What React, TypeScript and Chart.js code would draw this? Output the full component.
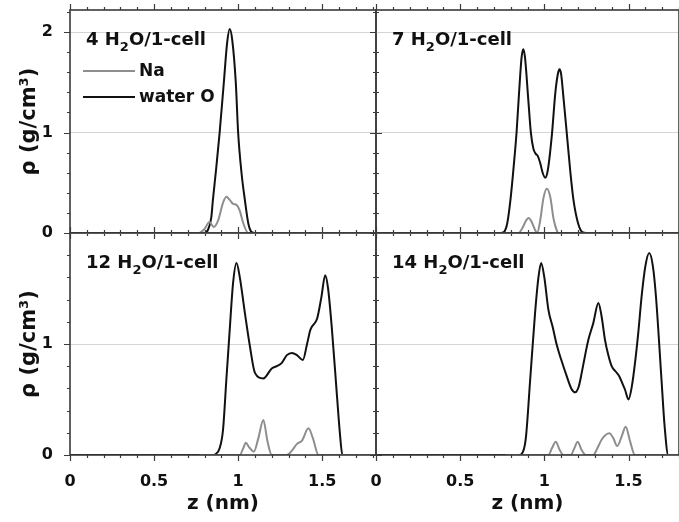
import React, { useEffect, useRef } from "react";
import { Chart, registerables } from "chart.js";

Chart.register(...registerables);

// ---- density profiles rho(z), g/cm^3 vs nm ----

// 4 H2O per cell
const z4Water = [0, 0.4, 0.8, 0.82, 0.84, 0.85, 0.87, 0.89, 0.915, 0.935, 0.95, 0.965, 0.986, 1.0, 1.02, 1.04, 1.06, 1.08, 1.1, 1.4, 1.82];
const rho4Water = [0, 0, 0, 0.03, 0.15, 0.33, 0.65, 1.0, 1.5, 1.9, 2.03, 1.92, 1.5, 1.0, 0.6, 0.33, 0.1, 0.01, 0, 0, 0];
const z4Na = [0.77, 0.8, 0.83, 0.855, 0.88, 0.91, 0.93, 0.95, 0.97, 0.99, 1.01, 1.03, 1.06, 1.82];
const rho4Na = [0, 0.04, 0.11, 0.06, 0.12, 0.3, 0.36, 0.33, 0.29, 0.28, 0.22, 0.1, 0, 0];

// 7 H2O per cell
const z7Water = [0, 0.5, 0.74, 0.76, 0.78, 0.8, 0.82, 0.835, 0.85, 0.865, 0.875, 0.885, 0.905, 0.92, 0.935, 0.948, 0.96, 0.975, 0.99, 1.005, 1.02, 1.045, 1.065, 1.08, 1.09, 1.1, 1.113, 1.133, 1.155, 1.173, 1.2, 1.225, 1.25, 1.8];
const rho7Water = [0, 0, 0, 0.01, 0.1, 0.35, 0.7, 1.0, 1.4, 1.75, 1.83, 1.75, 1.32, 1.0, 0.84, 0.79, 0.77, 0.7, 0.6, 0.55, 0.62, 0.98, 1.39, 1.58, 1.63, 1.58, 1.36, 1.0, 0.6, 0.33, 0.1, 0.01, 0, 0];
const z7Na = [0.77, 0.845, 0.87, 0.89, 0.906, 0.925, 0.945, 0.957, 0.975, 0.995, 1.015, 1.035, 1.055, 1.075, 1.085, 1.8];
const rho7Na = [0, 0, 0.05, 0.12, 0.15, 0.11, 0.03, 0, 0.12, 0.35, 0.44, 0.36, 0.14, 0.02, 0, 0];

// 12 H2O per cell
const z12Water = [0, 0.5, 0.85, 0.867, 0.89, 0.91, 0.93, 0.95, 0.97, 0.99, 1.01, 1.04, 1.07, 1.1, 1.15, 1.2, 1.23, 1.26, 1.29, 1.32, 1.35, 1.385, 1.41, 1.43, 1.47, 1.495, 1.518, 1.535, 1.558, 1.588, 1.605, 1.62, 1.82];
const rho12Water = [0, 0, 0, 0.01, 0.06, 0.225, 0.68, 1.13, 1.55, 1.73, 1.6, 1.28, 0.98, 0.74, 0.69, 0.78, 0.8, 0.83, 0.9, 0.92, 0.9, 0.856, 1.0, 1.13, 1.23, 1.42, 1.62, 1.5, 1.13, 0.53, 0.2, 0, 0];
const z12Na = [0.77, 1.01, 1.03, 1.046, 1.065, 1.094, 1.12, 1.15, 1.175, 1.2, 1.29, 1.32, 1.35, 1.38, 1.418, 1.445, 1.478, 1.82];
const rho12Na = [0, 0, 0.06, 0.11, 0.07, 0.03, 0.15, 0.315, 0.12, 0, 0, 0.04, 0.1, 0.13, 0.24, 0.15, 0, 0];

// 14 H2O per cell
const z14Water = [0, 0.5, 0.85, 0.866, 0.89, 0.916, 0.945, 0.965, 0.981, 1.0, 1.024, 1.05, 1.074, 1.1, 1.133, 1.16, 1.183, 1.205, 1.222, 1.245, 1.262, 1.291, 1.321, 1.34, 1.36, 1.38, 1.4, 1.425, 1.445, 1.465, 1.479, 1.5, 1.52, 1.538, 1.558, 1.578, 1.6, 1.623, 1.645, 1.663, 1.696, 1.715, 1.736, 1.8];
const rho14Water = [0, 0, 0, 0.01, 0.15, 0.68, 1.28, 1.6, 1.73, 1.6, 1.31, 1.15, 0.99, 0.86, 0.71, 0.6, 0.565, 0.62, 0.74, 0.92, 1.04, 1.19, 1.37, 1.25, 1.04, 0.9, 0.8, 0.75, 0.71, 0.64, 0.59, 0.5, 0.62, 0.82, 1.1, 1.43, 1.7, 1.82, 1.7, 1.43, 0.68, 0.25, 0, 0];
const z14Na = [0.77, 1.024, 1.045, 1.068, 1.09, 1.113, 1.157, 1.178, 1.198, 1.22, 1.246, 1.291, 1.315, 1.341, 1.386, 1.41, 1.433, 1.46, 1.483, 1.51, 1.538, 1.8];
const rho14Na = [0, 0, 0.06, 0.12, 0.05, 0, 0, 0.06, 0.12, 0.05, 0, 0, 0.06, 0.14, 0.195, 0.15, 0.08, 0.17, 0.255, 0.12, 0, 0];

const seriesNames = ["Na", "water O"];
const xTitle = "z (nm)";
const yTitle = "ρ (g/cm³)";

const NA_COLOR = "#8e8e8e";
const WATER_COLOR = "#111111";
const FRAME_COLOR = "#3a3a3a";
const FONT = '"DejaVu Sans", sans-serif';

const W = 679;
const H = 522;

type Panel = {
  count: string;
  zWater: number[];
  rhoWater: number[];
  zNa: number[];
  rhoNa: number[];
  zMax: number;
  rhoMax: number;
  box: { left: number; top: number; right: number; bottom: number };
  showX: boolean;
  showY: boolean;
  legend: boolean;
};

const panels: Panel[] = [
  { count: "4", zWater: z4Water, rhoWater: rho4Water, zNa: z4Na, rhoNa: rho4Na, zMax: 1.82, rhoMax: 2.22, box: { left: 70, top: 10, right: 376, bottom: 233 }, showX: false, showY: true, legend: true },
  { count: "7", zWater: z7Water, rhoWater: rho7Water, zNa: z7Na, rhoNa: rho7Na, zMax: 1.8, rhoMax: 2.22, box: { left: 376, top: 10, right: 679, bottom: 233 }, showX: false, showY: false, legend: false },
  { count: "12", zWater: z12Water, rhoWater: rho12Water, zNa: z12Na, rhoNa: rho12Na, zMax: 1.82, rhoMax: 2.0, box: { left: 70, top: 233, right: 376, bottom: 455 }, showX: true, showY: true, legend: false },
  { count: "14", zWater: z14Water, rhoWater: rho14Water, zNa: z14Na, rhoNa: rho14Na, zMax: 1.8, rhoMax: 2.0, box: { left: 376, top: 233, right: 679, bottom: 455 }, showX: true, showY: false, legend: false },
];

const toPoints = (xs: number[], ys: number[]) => xs.map((x, i) => ({ x, y: ys[i] }));

// frame, outward tick marks, panel caption and legend
function makeDecorPlugin(p: Panel) {
  return {
    id: "panelDecor",
    afterDatasetsDraw(chart: any) {
      const { ctx, chartArea } = chart;
      const xs = chart.scales.x;
      const ys = chart.scales.y;
      const { left, right, top, bottom } = chartArea;
      ctx.save();
      ctx.strokeStyle = FRAME_COLOR;
      ctx.lineWidth = 1.2;
      ctx.beginPath();
      for (let k = 0; k <= Math.round(p.zMax * 10); k++) {
        const v = k / 10;
        const px = Math.round(xs.getPixelForValue(v)) + 0.5;
        const len = k % 5 === 0 ? 6 : 3;
        ctx.moveTo(px, bottom);
        ctx.lineTo(px, bottom + len);
        ctx.moveTo(px, top);
        ctx.lineTo(px, top - len);
      }
      for (let k = 0; k <= Math.floor(p.rhoMax * 5 + 1e-6); k++) {
        const v = k / 5;
        const py = Math.round(ys.getPixelForValue(v)) + 0.5;
        const len = k % 5 === 0 ? 6 : 3;
        ctx.moveTo(left, py);
        ctx.lineTo(left - len, py);
        ctx.moveTo(right, py);
        ctx.lineTo(right + len, py);
      }
      ctx.stroke();
      ctx.lineWidth = 1.6;
      ctx.strokeRect(left, top, right - left, bottom - top);
      ctx.restore();
    },
    afterDraw(chart: any) {
      const { ctx, chartArea } = chart;
      const { left, top } = chartArea;
      ctx.save();
      ctx.fillStyle = "#111";
      ctx.textBaseline = "alphabetic";
      ctx.textAlign = "left";
      let x = left + 16;
      const y = top + 35;
      const head = `${p.count} H`;
      ctx.font = `bold 18px ${FONT}`;
      ctx.fillText(head, x, y);
      x += ctx.measureText(head).width;
      ctx.font = `bold 13px ${FONT}`;
      ctx.fillText("2", x, y + 6);
      x += ctx.measureText("2").width;
      ctx.font = `bold 18px ${FONT}`;
      ctx.fillText("O/1-cell", x, y);

      if (p.legend) {
        const rows = [
          { name: seriesNames[0], color: NA_COLOR, dy: 61 },
          { name: seriesNames[1], color: WATER_COLOR, dy: 87 },
        ];
        ctx.font = `bold 17px ${FONT}`;
        ctx.textBaseline = "middle";
        rows.forEach((r) => {
          ctx.strokeStyle = r.color;
          ctx.lineWidth = 2;
          ctx.beginPath();
          ctx.moveTo(left + 13, top + r.dy);
          ctx.lineTo(left + 65, top + r.dy);
          ctx.stroke();
          ctx.fillStyle = "#111";
          ctx.fillText(r.name, left + 69, top + r.dy + 1);
        });
      }
      ctx.restore();
    },
  };
}

function PanelChart({ p }: { p: Panel }) {
  const ref = useRef<HTMLCanvasElement | null>(null);
  useEffect(() => {
    if (!ref.current) return;
    const yAxisW = p.showY ? 70 : 0;
    const xAxisH = p.showX ? 67 : 0;
    const chart = new Chart(ref.current, {
      type: "line",
      data: {
        datasets: [
          {
            label: seriesNames[0],
            data: toPoints(p.zNa, p.rhoNa),
            borderColor: NA_COLOR,
            borderWidth: 2,
            pointRadius: 0,
            cubicInterpolationMode: "monotone",
            fill: false,
          },
          {
            label: seriesNames[1],
            data: toPoints(p.zWater, p.rhoWater),
            borderColor: WATER_COLOR,
            borderWidth: 2,
            pointRadius: 0,
            cubicInterpolationMode: "monotone",
            fill: false,
          },
        ],
      },
      options: {
        animation: false,
        responsive: false,
        devicePixelRatio: 1,
        events: [],
        layout: {
          padding: {
            left: p.box.left - yAxisW,
            top: p.box.top,
            right: W - p.box.right,
            bottom: H - p.box.bottom - xAxisH,
          },
        },
        plugins: {
          legend: { display: false },
          tooltip: { enabled: false },
        },
        scales: {
          x: {
            type: "linear",
            min: 0,
            max: p.zMax,
            grid: { display: false, drawTicks: false },
            border: { display: false },
            ticks: {
              display: p.showX,
              stepSize: 0.5,
              includeBounds: false,
              autoSkip: false,
              maxRotation: 0,
              padding: 17,
              color: "#111",
              font: { family: FONT, size: 16, weight: "bold" },
              callback: (v: any) => String(Number(v)),
            },
            title: {
              display: p.showX,
              text: xTitle,
              color: "#111",
              font: { family: FONT, size: 20, weight: "bold" },
              padding: { top: 0, bottom: 6 },
            },
            afterFit: (s: any) => {
              s.height = xAxisH;
              s.paddingLeft = 0;
              s.paddingRight = 0;
            },
          },
          y: {
            type: "linear",
            min: 0,
            max: p.rhoMax,
            grid: {
              display: true,
              drawTicks: false,
              color: (c: any) => (c.tick && c.tick.value === 0 ? "rgba(0,0,0,0)" : "#d4d4d4"),
              lineWidth: 1,
            },
            border: { display: false },
            ticks: {
              display: p.showY,
              stepSize: 1,
              includeBounds: false,
              padding: 17,
              color: "#111",
              font: { family: FONT, size: 16, weight: "bold" },
              // the top label of a lower panel would sit on the upper panel's zero
              callback: (v: any) => (p.box.top > 100 && Number(v) >= p.rhoMax ? "" : String(Number(v))),
            },
            title: {
              display: p.showY,
              text: yTitle,
              color: "#111",
              font: { family: FONT, size: 21, weight: "bold" },
              padding: { top: 17, bottom: 0 },
            },
            afterFit: (s: any) => {
              s.width = yAxisW;
              s.paddingTop = 0;
              s.paddingBottom = 0;
            },
          },
        },
      } as any,
      plugins: [makeDecorPlugin(p)],
    });
    return () => chart.destroy();
  }, [p]);
  return (
    <canvas
      ref={ref}
      width={W}
      height={H}
      style={{ position: "absolute", left: 0, top: 0, width: W, height: H }}
    />
  );
}

export default function App() {
  return (
    <div style={{ position: "absolute", left: 0, top: 0, width: W, height: H, background: "#fff", overflow: "hidden" }}>
      {panels.map((p) => (
        <PanelChart key={p.count} p={p} />
      ))}
    </div>
  );
}
